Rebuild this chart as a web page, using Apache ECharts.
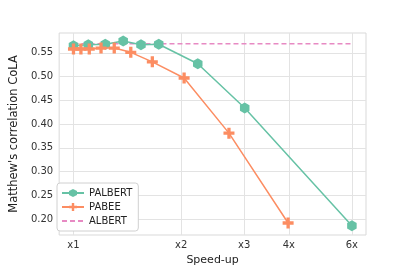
<!DOCTYPE html>
<html><head><meta charset="utf-8">
<script src="https://cdn.jsdelivr.net/npm/echarts@6/dist/echarts.min.js"></script>
<style>html,body{margin:0;padding:0;background:#fff}#c{width:407px;height:271px}</style>
</head><body><div id="c"></div>
<script>
const palbertX = [1.0, 1.10, 1.227, 1.377, 1.544, 1.731, 2.225, 3.01, 6.0];
const palbertY = [0.565, 0.567, 0.568, 0.575, 0.567, 0.568, 0.527, 0.434, 0.186];
const pabeeX = [1.0, 1.049, 1.107, 1.194, 1.30, 1.446, 1.661, 2.038, 2.72, 3.98];
const pabeeY = [0.558, 0.558, 0.558, 0.560, 0.560, 0.551, 0.531, 0.497, 0.381, 0.192];
const albertX = [1, 6];
const albertY = 0.569;
const xTicks = [1, 2, 3, 4, 6];
const xTickLabels = ['x1', 'x2', 'x3', '4x', '6x'];
const yTicks = [0.20, 0.25, 0.30, 0.35, 0.40, 0.45, 0.50, 0.55];

const hex = 'path://M0,-1L0.866,-0.5L0.866,0.5L0,1L-0.866,0.5L-0.866,-0.5Z';
const plus = 'path://M-0.3,-1L0.3,-1L0.3,-0.3L1,-0.3L1,0.3L0.3,0.3L0.3,1L-0.3,1L-0.3,0.3L-1,0.3L-1,-0.3L-0.3,-0.3Z';
const font = 'DejaVu Sans';
const chart = echarts.init(document.getElementById('c'));
chart.setOption({
  animation: false,
  textStyle: {fontFamily: font},
  grid: {left: 51, right: 41, top: 33, bottom: 34, show: true, borderColor: '#d9d9d9', borderWidth: 1},
  xAxis: {
    type: 'log', logBase: 2, min: 0.912, max: 6.57,
    name: 'Speed-up', nameLocation: 'middle', nameGap: 20,
    nameTextStyle: {fontSize: 11, color: '#222', fontFamily: font},
    axisLine: {show: false},
    axisTick: {show: false, customValues: xTicks},
    axisLabel: {customValues: xTicks, fontSize: 10, color: '#333', margin: 5, fontFamily: font,
      formatter: v => { const i = xTicks.findIndex(t => Math.abs(t - v) < 1e-6); return i >= 0 ? xTickLabels[i] : ''; }},
    splitLine: {show: true, lineStyle: {color: '#e3e3e3', width: 1}}
  },
  yAxis: {
    type: 'value', min: 0.1667, max: 0.5917,
    name: "Matthew's correlation CoLA", nameLocation: 'middle', nameGap: 30, nameRotate: 90,
    nameTextStyle: {fontSize: 11.5, color: '#222', fontFamily: font},
    axisLine: {show: false},
    axisTick: {show: false, customValues: yTicks},
    axisLabel: {customValues: yTicks, fontSize: 10, color: '#333', margin: 6, fontFamily: font,
      formatter: v => v.toFixed(2)},
    splitLine: {show: true, lineStyle: {color: '#e3e3e3', width: 1}}
  },
  legend: {
    left: 57, top: 183, orient: 'vertical', itemGap: 4, itemWidth: 22, itemHeight: 10,
    backgroundColor: '#fff', borderColor: '#d0d0d0', borderWidth: 1, borderRadius: 3,
    padding: [5, 6, 5, 4],
    textStyle: {fontSize: 10, color: '#222', fontFamily: font},
    data: ['PALBERT', 'PABEE', {name: 'ALBERT', itemStyle: {opacity: 0}}]
  },
  series: [
    {name: 'ALBERT', type: 'line', data: albertX.map(x => [x, albertY]), showSymbol: false, symbol: 'none',
     lineStyle: {color: '#e78ac3', width: 1.5, type: [5, 3]}, itemStyle: {color: '#e78ac3'}, z: 1},
    {name: 'PABEE', type: 'line', data: pabeeX.map((x, i) => [x, pabeeY[i]]), symbol: plus, symbolSize: 11,
     symbolKeepAspect: true, lineStyle: {color: '#fc8d62', width: 1.5}, itemStyle: {color: '#fc8d62'}, z: 3},
    {name: 'PALBERT', type: 'line', data: palbertX.map((x, i) => [x, palbertY[i]]), symbol: hex, symbolSize: 11,
     symbolKeepAspect: true, lineStyle: {color: '#66c2a5', width: 1.5}, itemStyle: {color: '#66c2a5'}, z: 2}
  ]
});
</script></body></html>
